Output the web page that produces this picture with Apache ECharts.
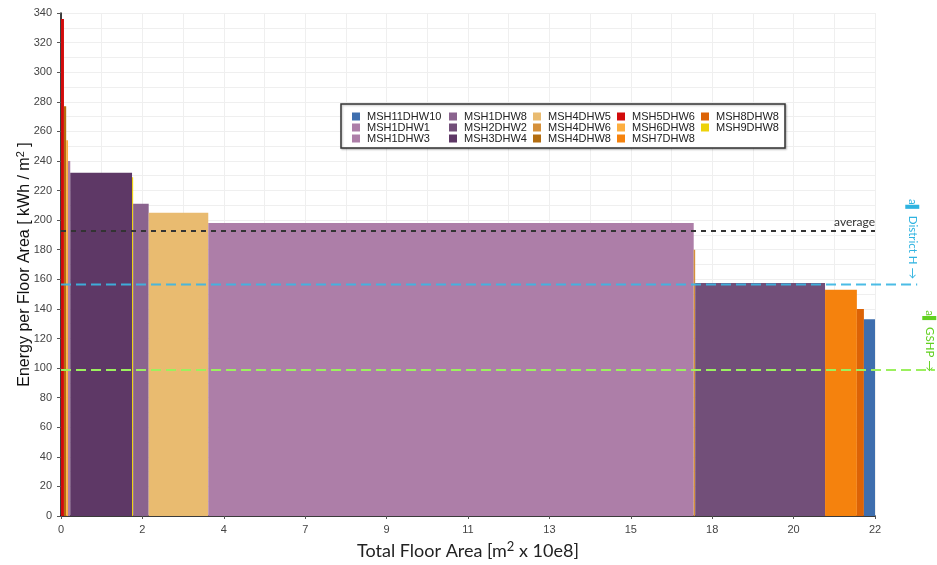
<!DOCTYPE html>
<html>
<head>
<meta charset="utf-8">
<script src="https://cdn.jsdelivr.net/npm/echarts@6/dist/echarts.min.js"></script>
<style>
  html, body { margin: 0; padding: 0; background: #fff; }
  #chart { width: 937px; height: 565px; }
</style>
</head>
<body>
<div id="chart"></div>
<script>
// Buildings, ordered by energy intensity (highest first)
const buildings = ['MSH5DHW6', 'MSH4DHW8', 'MSH6DHW8', 'MSH1DHW3', 'MSH3DHW4', 'MSH9DHW8', 'MSH1DHW8',
                   'MSH4DHW5', 'MSH1DHW1', 'MSH4DHW6', 'MSH2DHW2', 'MSH7DHW8', 'MSH8DHW8', 'MSH11DHW10'];
// Total floor area per building [m² x 10e8]
const floorArea = [0.08, 0.06, 0.05, 0.06, 1.67, 0.03, 0.42, 1.61, 13.12, 0.04, 3.51, 0.86, 0.19, 0.30];
// Energy per floor area [kWh / m²]
const energy = [336, 277, 254, 240, 232, 229, 211, 205, 198, 180, 157.5, 153, 140, 133];
// Reference levels [kWh / m²]
const districtHeating = 156.5;
const gshp = 98.7;
// Tick labels of the floor-area axis
const xTickLabels = ['0', '2', '4', '7', '9', '11', '13', '15', '18', '20', '22'];
// Legend layout, column by column
const legendColumns = [
  ['MSH11DHW10', 'MSH1DHW1', 'MSH1DHW3'],
  ['MSH1DHW8', 'MSH2DHW2', 'MSH3DHW4'],
  ['MSH4DHW5', 'MSH4DHW6', 'MSH4DHW8'],
  ['MSH5DHW6', 'MSH6DHW8', 'MSH7DHW8'],
  ['MSH8DHW8', 'MSH9DHW8']
];

const palette = {
  MSH11DHW10: '#3e6eae', MSH1DHW1: '#ad7ea8', MSH1DHW3: '#ad7ea8', MSH1DHW8: '#8a638e',
  MSH2DHW2: '#724f79', MSH3DHW4: '#5e3866', MSH4DHW5: '#e9bb70', MSH4DHW6: '#d5903a',
  MSH4DHW8: '#b36d10', MSH5DHW6: '#d20b0b', MSH6DHW8: '#fdae40', MSH7DHW8: '#f5820d',
  MSH8DHW8: '#dc6306', MSH9DHW8: '#edd20a'
};

// Bars sit side by side: each starts where the previous one ends
const xMax = 22;
let cursor = 0;
const barSeries = buildings.map((name, i) => {
  const x0 = cursor;
  const x1 = cursor + floorArea[i];
  cursor = x1;
  return {
    type: 'custom',
    name: name,
    itemStyle: { color: palette[name] },
    encode: { x: [0, 1], y: 2 },
    data: [[x0, x1, energy[i]]],
    z: 2,
    renderItem: function (params, api) {
      const top = api.coord([api.value(0), api.value(2)]);
      const bottom = api.coord([api.value(1), 0]);
      return {
        type: 'rect',
        shape: { x: top[0], y: top[1], width: bottom[0] - top[0], height: bottom[1] - top[1] },
        style: api.style()
      };
    }
  };
});

// Floor-area weighted mean intensity
let weighted = 0, areaSum = 0;
floorArea.forEach((a, i) => { weighted += a * energy[i]; areaSum += a; });
const average = weighted / areaSum;

// Horizontal dashed level: [xStart, xEnd, level]
function levelSeries(name, xEnd, level, lineStyle, label) {
  return {
    type: 'custom', name: name, silent: true, clip: false, z: 5,
    encode: { x: [0, 1], y: 2 },
    data: [[0, xEnd, level]],
    renderItem: function (params, api) {
      const a = api.coord([api.value(0), api.value(2)]);
      const b = api.coord([api.value(1), api.value(2)]);
      const children = [{
        type: 'line',
        shape: { x1: a[0], y1: a[1], x2: b[0], y2: b[1] },
        style: lineStyle
      }];
      if (label) {
        children.push({
          type: 'text',
          x: b[0], y: b[1] - 3,
          style: Object.assign({ textAlign: 'right', textVerticalAlign: 'bottom' }, label)
        });
      }
      return { type: 'group', children: children };
    }
  };
}

const lineSeries = [
  levelSeries('average', xMax, average,
    { stroke: '#333', lineWidth: 2, lineDash: [5, 5] },
    { text: 'average', fill: '#333', font: '12px Lato' }),
  levelSeries('District H', 23.14, districtHeating,
    { stroke: 'rgba(60,182,227,0.92)', lineWidth: 2, lineDash: [10, 5] }),
  levelSeries('GSHP', 23.62, gshp,
    { stroke: '#9bf05e', lineWidth: 2, lineDash: [10, 5] })
];

const legendLeft = [352, 449, 533, 617, 701];
const legends = legendColumns.map((col, c) => ({
  orient: 'vertical',
  left: legendLeft[c],
  top: 111,
  padding: 0,
  itemGap: 0,
  itemWidth: 8,
  itemHeight: 8,
  icon: 'rect',
  selectedMode: false,
  z: 20,
  data: col,
  textStyle: { fontFamily: 'Liberation Sans, Arial, sans-serif', fontSize: 11, lineHeight: 11,
               color: '#222', padding: [0, 0, 0, 2] }
}));

const chart = echarts.init(document.getElementById('chart'), null, { renderer: 'canvas' });
chart.setOption({
  animation: false,
  backgroundColor: '#fff',
  grid: { left: 61, right: 62, top: 13, bottom: 49, outerBoundsMode: 'none', containLabel: false },
  xAxis: {
    type: 'value', min: 0, max: xMax, interval: 2.2,
    name: 'Total Floor Area [m{sup|2} x 10e8]',
    nameLocation: 'middle', nameGap: 24, nameMoveOverlap: false,
    nameTextStyle: {
      fontFamily: 'Lato', fontSize: 18, color: '#222',
      rich: { sup: { fontFamily: 'Lato', fontSize: 13, color: '#222', padding: [0, 0, 9, 0] } }
    },
    axisLine: { show: true, onZero: false, lineStyle: { color: '#000', width: 1.5 } },
    axisTick: { show: true, length: 3, lineStyle: { color: '#555' } },
    axisLabel: {
      margin: 8, color: '#444', fontSize: 11,
      fontFamily: 'Liberation Sans Narrow, Liberation Sans, Arial, sans-serif',
      formatter: (v, i) => xTickLabels[i] !== undefined ? xTickLabels[i] : String(Math.round(v))
    },
    splitLine: { show: true, lineStyle: { color: '#efefef', width: 1 } },
    minorTick: { show: false, splitNumber: 2 },
    minorSplitLine: { show: true, lineStyle: { color: '#efefef', width: 1 } }
  },
  yAxis: {
    type: 'value', min: 0, max: 340, interval: 20,
    name: 'Energy per Floor Area [ kWh / m{sup|2} ]',
    nameLocation: 'middle', nameGap: 26, nameRotate: 90, nameMoveOverlap: false,
    nameTextStyle: {
      fontFamily: 'Liberation Sans, Arial, sans-serif', fontSize: 16, color: '#111',
      rich: { sup: { fontFamily: 'Liberation Sans, Arial, sans-serif', fontSize: 11, color: '#111', padding: [0, 0, 9, 0] } }
    },
    axisLine: { show: true, lineStyle: { color: '#000', width: 1.5 } },
    axisTick: { show: true, length: 4, lineStyle: { color: '#555' } },
    axisLabel: { margin: 9, color: '#444', fontSize: 11, fontFamily: 'Liberation Sans, Arial, sans-serif' },
    splitLine: { show: true, lineStyle: { color: '#efefef', width: 1 } },
    minorTick: { show: false, splitNumber: 2 },
    minorSplitLine: { show: true, lineStyle: { color: '#efefef', width: 1 } }
  },
  legend: legends,
  graphic: [
    {
      type: 'rect', z: 3, silent: true,
      shape: { x: 341, y: 104, width: 444, height: 44 },
      style: { fill: '#fff', stroke: '#333', lineWidth: 1.5,
               shadowBlur: 2, shadowColor: 'rgba(0,0,0,0.25)', shadowOffsetX: 1, shadowOffsetY: 1 }
    },
    {
      type: 'text', z: 10, silent: true, x: 913, y: 239, rotation: -Math.PI / 2,
      style: { text: 'a▌ District H →', fill: '#2fb3e0', font: '11.5px Lato',
               textAlign: 'center', textVerticalAlign: 'middle' }
    },
    {
      type: 'text', z: 10, silent: true, x: 930, y: 341, rotation: -Math.PI / 2,
      style: { text: 'a▌ GSHP →', fill: '#62d020', font: '11.5px Lato',
               textAlign: 'center', textVerticalAlign: 'middle' }
    }
  ],
  series: barSeries.concat(lineSeries)
});
</script>
</body>
</html>
